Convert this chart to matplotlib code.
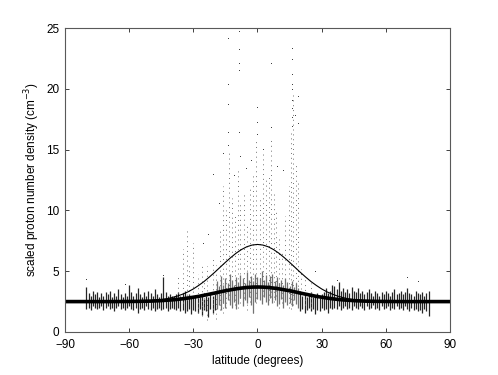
import matplotlib
matplotlib.use("Agg")
import matplotlib.pyplot as plt
import numpy as np

plt.rcParams["font.family"] = ["Liberation Sans", "DejaVu Sans"]

# fitted model curves
curve_lat = [-90, -70, -60, -55, -50, -45, -42.5, -40, -37.5, -35, -32.5, -30,
             -27.5, -25, -22.5, -20, -17.5, -15, -12.5, -10, -7.5, -5, -2.5, 0,
             2.5, 5, 7.5, 10, 12.5, 15, 17.5, 20, 22.5, 25, 27.5, 30, 32.5, 35,
             37.5, 40, 42.5, 45, 50, 55, 60, 70, 90]
thin_curve = [2.50, 2.50, 2.51, 2.53, 2.57, 2.66, 2.73, 2.83, 2.95, 3.11, 3.30, 3.54,
              3.83, 4.15, 4.52, 4.91, 5.32, 5.73, 6.12, 6.48, 6.78, 7.01, 7.15, 7.20,
              7.15, 7.01, 6.78, 6.48, 6.12, 5.73, 5.32, 4.91, 4.52, 4.15, 3.83, 3.54,
              3.30, 3.11, 2.95, 2.83, 2.73, 2.66, 2.57, 2.53, 2.51, 2.50, 2.50]
thick_curve = [2.50, 2.50, 2.51, 2.52, 2.54, 2.58, 2.61, 2.64, 2.68, 2.73, 2.79, 2.86,
               2.93, 3.02, 3.11, 3.20, 3.30, 3.39, 3.47, 3.55, 3.61, 3.66, 3.69, 3.70,
               3.69, 3.66, 3.61, 3.55, 3.47, 3.39, 3.30, 3.20, 3.11, 3.02, 2.93, 2.86,
               2.79, 2.73, 2.68, 2.64, 2.61, 2.58, 2.54, 2.52, 2.51, 2.50, 2.50]

# dense band of measurements, one stroke per degree (-80 .. 80)
band_lat = list(range(-80, 81))
band_lo = [1.9, 2.0, 1.8, 2.1, 2.0, 1.9, 2.0, 2.1, 1.8, 2.0,
           2.1, 1.9, 2.0, 1.7, 2.0, 2.1, 1.9, 2.0, 1.8, 2.0,
           2.1, 1.9, 1.8, 2.0, 1.6, 1.9, 2.0, 1.8, 2.1, 1.9,
           1.8, 2.0, 1.7, 1.9, 2.0, 1.8, 1.9, 2.0, 1.7, 1.9,
           2.0,
           1.9, 1.8, 2.0, 1.7, 1.8, 1.6, 1.7, 1.9, 1.5, 1.8,
           1.7, 1.6, 1.9, 1.4, 1.8, 1.7, 1.2, 1.9, 1.6, 1.8,
           1.9, 2.2, 1.8, 2.4, 2.0, 2.6, 2.2, 2.0, 2.5, 1.9,
           2.3, 2.8, 2.1, 2.6, 2.4, 2.9, 2.2, 1.6, 2.5, 2.7,
           2.6, 2.3, 2.9, 2.5, 2.2, 2.8, 2.4, 2.6, 2.1, 2.3,
           2.7, 2.0, 2.5, 2.2, 2.4, 2.1, 2.6, 2.3, 2.0,
           1.7, 1.9, 1.6, 1.8, 2.0, 1.7, 1.9, 1.5, 1.8, 1.7,
           2.0, 1.8, 1.9, 1.6, 2.0, 1.9,
           2.0, 1.9, 2.1, 1.8, 2.0, 2.1, 1.9, 2.0, 1.8, 2.1,
           2.0, 1.9, 2.1, 2.0, 1.8, 2.1, 1.9, 2.0, 2.2, 1.9,
           2.0, 1.8, 2.1, 1.9, 2.0, 2.1, 1.8, 2.0, 1.9, 2.1,
           1.9, 2.0, 1.8, 2.1, 1.9, 1.7, 2.0, 1.8, 1.9, 1.7,
           1.8, 1.6, 1.9, 1.7, 1.3]
band_hi = [3.7, 3.2, 3.0, 3.4, 3.1, 3.3, 2.9, 3.2, 3.0, 3.3,
           3.1, 3.4, 2.9, 3.2, 3.0, 3.5, 3.1, 2.9, 3.2, 3.0,
           3.9, 3.3, 3.0, 3.2, 3.6, 3.1, 2.9, 3.3, 3.0, 3.4,
           3.2, 3.0, 3.5, 3.1, 2.9, 3.2, 4.5, 3.3, 3.0, 3.1,
           3.0,
           3.0, 3.1, 3.3, 3.0, 3.2, 3.4, 3.0, 3.1, 2.9, 2.8,
           3.0, 2.8, 2.9, 3.1, 2.7, 3.0, 2.9, 3.2, 3.0, 3.1,
           4.2, 3.8, 4.6, 3.9, 4.4, 4.0, 4.8, 4.3, 3.9, 4.5,
           4.1, 4.7, 4.4, 4.0, 4.9, 4.3, 4.6, 4.2, 4.8, 4.5,
           4.4, 5.0, 4.3, 4.7, 4.1, 4.6, 4.8, 4.2, 4.5, 4.0,
           4.3, 3.9, 4.4, 4.1, 3.8, 4.2, 3.7, 4.0, 3.6,
           3.4, 3.0, 3.2, 2.9, 3.1, 3.3, 2.9, 3.0, 3.2, 2.8,
           3.1, 3.3, 3.6, 3.2, 3.4, 3.9,
           3.8, 3.5, 4.1, 3.4, 3.6, 3.3, 3.5, 3.2, 3.7, 3.4,
           3.3, 3.6, 3.2, 3.4, 3.1, 3.3, 3.5, 3.2, 3.0, 3.4,
           3.2, 3.0, 3.3, 3.1, 3.4, 3.2, 3.0, 3.3, 3.5, 3.1,
           3.2, 3.4, 3.1, 3.3, 3.6, 3.2, 3.1, 3.0, 3.4, 3.2,
           3.1, 3.3, 3.0, 3.2, 3.4]

# scattered streaks of dots at low latitudes
streak_lat = [-37, -35, -33, -32, -30, -28, -26, -25, -23.5, -21, -19.5, -17.5,
              -16, -14.5, -13.5, -12, -10.5, -9, -8, -6.5, -5, -3.5, -2, -0.5,
              1, 2.5, 4, 5.5, 6.5, 7.5, 8.5, 10, 11.5, 13, 14.5, 15.5, 16.5, 18,
              19, 20.5, 22, 25]
streak_lo = [2.8, 2.4, 2.6, 3.0, 2.9, 1.6, 1.3, 2.0, 1.0, 1.5, 1.1, 1.8,
             1.6, 2.0, 2.6, 3.0, 2.2, 2.0, 2.4, 2.8, 1.8, 2.5, 1.6, 2.4,
             2.8, 3.0, 3.2, 2.6, 2.9, 2.5, 3.0, 2.0, 2.4, 2.7, 2.0, 1.9, 2.2, 3.2,
             3.4, 3.5, 2.2, 2.0]
streak_hi = [4.6, 6.8, 8.4, 5.5, 7.3, 4.8, 5.7, 4.3, 5.4, 6.2, 5.5, 8.5,
             12.0, 10.0, 15.0, 11.0, 9.5, 13.5, 10.5, 11.5, 9.0, 12.0, 13.0, 15.8,
             11.0, 14.8, 12.5, 13.0, 16.0, 11.5, 10.0, 8.0, 6.5, 9.5, 12.0, 16.5, 19.5, 14.0,
             12.5, 5.2, 4.6, 4.0]

# isolated dots
dot_lat = [-13.8, -13.8, -13.8, -13.8, -13.6, -8.6, -8.6, -8.6, -8.6, -8.6, -8.4,
           -0.2, -0.2, -0.3, 6.3, 6.5, 16.1, 16.1, 16.2, 16.0, 16.3, 16.1, 16.2,
           16.0, 16.3, 18.9, 18.9, 17.5, -20.8, -16.0, 2.6, -25.5, -3.0, 9.0, 12.0,
           -11.0, -5.5, -18.0, -23.0, -80, -62, -44, 27, 37, 70, 75]
dot_val = [24.1, 20.3, 18.7, 16.4, 15.3, 24.7, 23.2, 22.0, 21.5, 16.4, 14.4,
           18.4, 17.2, 16.2, 22.0, 16.8, 23.3, 22.4, 21.1, 20.3, 19.9, 19.0, 18.3,
           17.6, 16.9, 19.3, 17.1, 17.8, 12.9, 14.6, 15.0, 7.2, 14.1, 13.6, 13.2,
           12.8, 13.4, 10.5, 8.0, 4.3, 3.9, 4.6, 4.9, 4.2, 4.4, 4.1]

fig = plt.figure(figsize=(4.98, 3.75), dpi=100)
ax = fig.add_axes([0.1305, 0.1147, 0.7731, 0.8106])

# strokes near the equator are sparser (lighter) in the original
band_colors = ["0.45" if abs(la) < 20 else "0.15" for la in band_lat]
ax.vlines(band_lat, band_lo, band_hi, colors=band_colors, lw=0.9)
ax.vlines(streak_lat, streak_lo, streak_hi, color="0.45", lw=0.7,
          linestyles=[(0, (1, 4))])
ax.plot(dot_lat, dot_val, ",", color="0.25")

ax.plot(curve_lat, thin_curve, color="k", lw=0.8)
ax.plot(curve_lat, thick_curve, color="k", lw=2.6)

ax.set_xlim(-90, 90)
ax.set_ylim(0, 25)
ax.set_xticks(np.arange(-90, 91, 30))
ax.set_yticks(np.arange(0, 26, 5))
ax.tick_params(direction="in", length=3, width=0.7, top=True, right=True,
               labelsize=8.5, color="0.25")
ax.tick_params(axis="x", pad=5)
ax.tick_params(axis="y", pad=4)
for s in ax.spines.values():
    s.set_color("0.35")
    s.set_linewidth(0.8)
ax.set_xlabel("latitude (degrees)", fontsize=8.5, labelpad=3)
ax.set_ylabel("scaled proton number density (cm$^{-3}$)", fontsize=8.5, labelpad=3)

fig.savefig("out.png", dpi=100)
